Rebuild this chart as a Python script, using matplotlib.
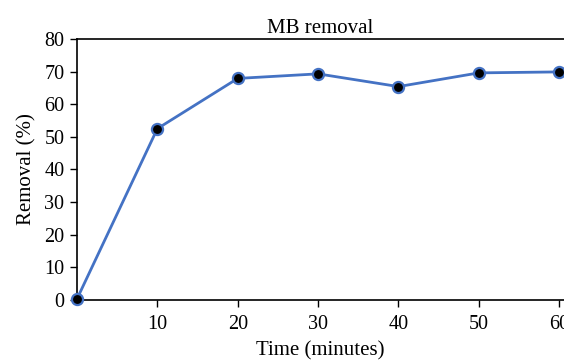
import matplotlib
matplotlib.use("Agg")
import matplotlib.pyplot as plt

# data
time_min = [0, 10, 20, 30, 40, 50, 60]
removal = [0.3, 52.5, 67.9, 69.3, 65.4, 69.6, 69.9]
xticks = [10, 20, 30, 40, 50, 60]
yticks = [0, 10, 20, 30, 40, 50, 60, 70, 80]

plt.rcParams['font.family'] = ['Liberation Serif', 'DejaVu Serif']

fig = plt.figure(figsize=(5.64, 3.64), dpi=100)
ax = fig.add_axes([0.1365, 0.176, 0.8635, 0.717])

ax.plot(time_min, removal, color='#4472C4', linewidth=2,
        marker='o', markersize=8, markerfacecolor='black',
        markeredgecolor='#4472C4', markeredgewidth=1.6, clip_on=False, zorder=3)

ax.set_xlim(0, 60.6)
ax.set_ylim(0, 80)
ax.set_xticks(xticks)
ax.set_yticks(yticks)
ax.tick_params(labelsize=14.5, direction='out', length=5, width=1)
ax.tick_params(axis='x', pad=6)
ax.tick_params(axis='y', pad=4)
ax.spines['right'].set_visible(False)
for s in ['left', 'bottom', 'top']:
    ax.spines[s].set_linewidth(1.2)

ax.set_title('MB removal', fontsize=15, pad=4)
ax.set_xlabel('Time (minutes)', fontsize=15, labelpad=5)
ax.set_ylabel('Removal (%)', fontsize=15, labelpad=6)

fig.savefig('out.png', dpi=100)
